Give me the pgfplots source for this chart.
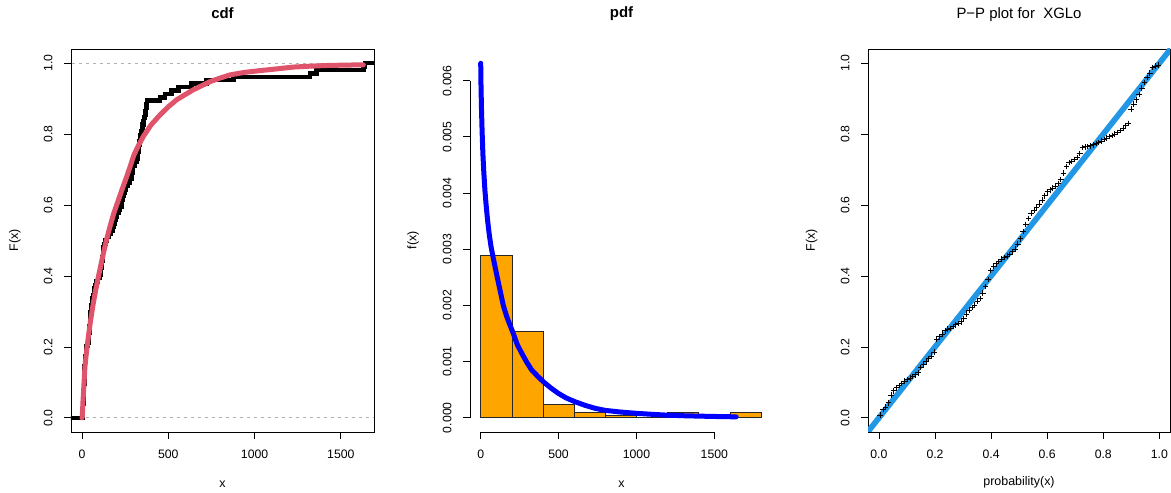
\documentclass[border=0pt]{standalone}
\usepackage{fontspec}
\setmainfont{Liberation Sans}
\usepackage{pgfplots}
\pgfplotsset{compat=1.18}
\definecolor{rred}{HTML}{DF536B}
\definecolor{rblue}{HTML}{2297E6}
\definecolor{rorange}{HTML}{FFA500}
\definecolor{gray70}{HTML}{B3B3B3}

\pgfplotsset{
  rpanel/.style={
    scale only axis, anchor=south west,
    tick align=outside, major tick length=7bp,
    xtick pos=lower, ytick pos=lower,
    tick style={black, line width=0.75bp},
    axis line style={line width=0.75bp},
    tick label style={font=\fontsize{12.3}{14}\selectfont, /pgf/number format/assume math mode=true},
    xticklabel shift=7bp, yticklabel shift=8bp,
    yticklabel style={rotate=90, anchor=south},
    label style={font=\fontsize{12.5}{14}\selectfont},
    title style={at={(0.5,1.064)}, anchor=base, font=\fontsize{15}{17}\selectfont},
    /pgf/number format/1000 sep={},
  },
}

\begin{document}
\begin{tikzpicture}
\useasboundingbox (0,0) rectangle (1171bp,493bp);

% ---- cdf ----
\begin{axis}[rpanel,
  at={(71bp,61bp)}, width=303bp, height=383bp,
  xmin=-63.7, xmax=1692, ymin=-0.04, ymax=1.04,
  xtick={0,500,1000,1500}, ytick={0,0.2,0.4,0.6,0.8,1},
  yticklabel style={/pgf/number format/.cd, fixed, fixed zerofill, precision=1},
  xlabel={x}, ylabel={F(x)},
  xlabel style={at={(axis description cs:0.5,-0.1358)}, anchor=center},
  ylabel style={at={(axis description cs:-0.1848,0.5)}, anchor=center},
  title={\bfseries cdf},
]
\addplot[gray70, line width=0.8bp, dash pattern=on 3.5bp off 3.5bp] coordinates {(-100,0)(1800,0)};
\addplot[gray70, line width=0.8bp, dash pattern=on 3.5bp off 3.5bp] coordinates {(-100,1)(1800,1)};
% empirical cdf (n = 104)
\addplot[const plot, black, line width=4.5bp] coordinates {
(-70,0)(2.5,0.0096)(4.2,0.0192)(4.9,0.0288)(6.1,0.0385)(8.5,0.0481)(9.7,0.0577)(10.7,0.0673)(11.3,0.0769)
(12.0,0.0865)(12.6,0.0962)(13.2,0.1058)(13.6,0.1154)(14.0,0.125)(14.6,0.1346)(15.2,0.1442)(16.8,0.1538)
(18.4,0.1635)(20.3,0.1731)(22.2,0.1827)(24.1,0.1923)(26.6,0.2019)(35.3,0.2115)(37.0,0.2212)(39.1,0.2308)
(41.8,0.2404)(43.3,0.25)(43.9,0.2596)(45.3,0.2692)(46.8,0.2788)(48.0,0.2885)(49.5,0.2981)(51.9,0.3077)
(55.8,0.3173)(59.1,0.3269)(61.4,0.3365)(63.9,0.3462)(68.2,0.3558)(70.9,0.3654)(77.1,0.375)(84.1,0.3846)
(91.9,0.3942)(102.5,0.4038)(107.7,0.4135)(110.8,0.4231)(113.9,0.4327)(116.5,0.4423)(118.7,0.4519)
(120.5,0.4615)(122.2,0.4712)(126.0,0.4808)(130.1,0.4904)(137.2,0.5)(144.8,0.5096)(154.9,0.5192)
(165.9,0.5288)(177.0,0.5385)(186.2,0.5481)(192.0,0.5577)(197.9,0.5673)(203.8,0.5769)(211.0,0.5865)
(219.7,0.5962)(227.7,0.6058)(232.1,0.6154)(235.7,0.625)(239.4,0.6346)(245.2,0.6442)(253.2,0.6538)
(265.8,0.6635)(278.8,0.6731)(286.3,0.6827)(288.4,0.6923)(291.8,0.7019)(295.9,0.7115)(305.2,0.7212)
(318,0.7308)(321,0.7404)(324,0.75)(327,0.7596)(330,0.7692)(333,0.7788)(336,0.7885)(340,0.7981)
(344,0.8077)(348,0.8173)(352,0.8269)(356,0.8365)(360,0.8462)(364,0.8558)(367,0.8654)(370,0.875)
(373,0.8846)(377,0.8942)(452,0.9038)(481,0.9135)(519,0.9231)(558,0.9327)(635,0.9423)(722,0.9519)
(877,0.9615)(1321,0.9712)(1360,0.9808)(1630,0.9904)(1640,1.0)(1750,1.0)};
% fitted cdf
\addplot[rred, line width=5bp, line cap=round] coordinates {
(0,0)(2,0.003)(5,0.04)(8,0.065)(12,0.1)(17,0.144)(27,0.19)(37,0.229)(50,0.275)(62,0.313)(78,0.357)
(95,0.398)(110,0.432)(124,0.464)(142,0.502)(162,0.539)(185,0.578)(211,0.614)(235,0.648)(259,0.68)
(280,0.71)(300,0.74)(325,0.766)(355,0.793)(400,0.826)(452,0.854)(500,0.877)(549,0.897)(600,0.912)
(645,0.925)(700,0.938)(742,0.948)(800,0.958)(858,0.967)(940,0.974)(1031,0.979)(1130,0.984)
(1224,0.989)(1320,0.9915)(1418,0.9935)(1520,0.9945)(1630,0.9955)};
\end{axis}

% ---- pdf ----
\begin{axis}[rpanel,
  at={(470bp,60.7bp)}, width=303bp, height=384bp,
  axis x line*=bottom, axis y line*=left,
  axis line style={draw=none}, clip=false,
  xmin=-68.7, xmax=1876.4, ymin=-0.00026, ymax=0.006577,
  xtick={0,500,1000,1500}, ytick={0,0.001,0.002,0.003,0.004,0.005,0.006},
  scaled y ticks=false,
  yticklabel style={/pgf/number format/.cd, fixed, fixed zerofill, precision=3},
  xlabel={x}, ylabel={f(x)},
  xlabel style={at={(axis description cs:0.5,-0.1346)}, anchor=center},
  ylabel style={at={(axis description cs:-0.188,0.5)}, anchor=center},
  title={\bfseries pdf},
]
\draw[line width=0.75bp] (axis cs:0,-0.00026) -- (axis cs:1500,-0.00026);
\draw[line width=0.75bp] (axis cs:-68.7,0) -- (axis cs:-68.7,0.006);
\addplot[ybar interval, fill=rorange, draw=black!85, line width=0.6bp] coordinates {
(0,0.002885)(200,0.001538)(400,0.00024)(600,0.0000962)(800,0.0000481)(1000,0)
(1200,0.0000962)(1400,0)(1600,0.0000962)(1800,0)};
\addplot[blue, line width=5bp, line cap=round] coordinates {
(0,0.00631)(2,0.0059)(5,0.0055)(9,0.0051)(14,0.0047)(20,0.00437)(27,0.00405)(35,0.00378)(44,0.00352)
(54,0.00328)(66,0.00305)(80,0.00285)(95,0.00265)(110,0.00245)(124,0.00227)(145,0.0020)(167,0.0018)
(188,0.00165)(209,0.0015)(235,0.0013)(263,0.00115)(295,0.00099)(327,0.00085)(365,0.00074)(402,0.00064)
(450,0.00053)(498,0.000434)(550,0.00035)(605,0.000285)(670,0.00022)(734,0.000167)(800,0.00013)
(900,0.0001)(1000,0.000078)(1100,0.00006)(1200,0.000045)(1300,0.000035)(1400,0.000028)
(1500,0.000022)(1640,0.000015)};
\end{axis}

% ---- P-P plot ----
\begin{axis}[rpanel,
  at={(868bp,61bp)}, width=302bp, height=383bp,
  xmin=-0.039, xmax=1.038, ymin=-0.04, ymax=1.04,
  xtick={0,0.2,0.4,0.6,0.8,1}, ytick={0,0.2,0.4,0.6,0.8,1},
  xticklabel style={/pgf/number format/.cd, fixed, fixed zerofill, precision=1},
  yticklabel style={/pgf/number format/.cd, fixed, fixed zerofill, precision=1},
  xlabel={probability(x)}, ylabel={F(x)},
  xlabel style={at={(axis description cs:0.5,-0.130)}, anchor=center},
  ylabel style={at={(axis description cs:-0.1864,0.5)}, anchor=center},
  title={P−P plot for~~XGLo},
]
\addplot[only marks, mark=+, mark size=2.8bp, mark options={line width=0.9bp}, black] coordinates {
(0.0048,0.008)(0.0144,0.024)(0.024,0.030)(0.0337,0.042)(0.0433,0.064)(0.0529,0.076)(0.0625,0.085)
(0.0721,0.091)(0.0817,0.097)(0.0913,0.103)(0.101,0.108)(0.1106,0.112)(0.1202,0.116)(0.1298,0.121)
(0.1394,0.127)(0.149,0.142)(0.1587,0.150)(0.1683,0.158)(0.1779,0.166)(0.1875,0.174)(0.1971,0.185)
(0.2067,0.222)(0.2163,0.229)(0.226,0.236)(0.2356,0.245)(0.2452,0.250)(0.2548,0.252)(0.2644,0.257)
(0.274,0.262)(0.2837,0.266)(0.2933,0.271)(0.3029,0.279)(0.3125,0.292)(0.3221,0.303)(0.3317,0.311)
(0.3413,0.318)(0.351,0.329)(0.3606,0.336)(0.3702,0.352)(0.3798,0.370)(0.3894,0.390)(0.399,0.415)
(0.4087,0.427)(0.4183,0.434)(0.4279,0.441)(0.4375,0.447)(0.4471,0.452)(0.4567,0.456)(0.4663,0.460)
(0.476,0.468)(0.4856,0.476)(0.4952,0.490)(0.5048,0.505)(0.5144,0.525)(0.524,0.545)(0.5337,0.562)
(0.5433,0.576)(0.5529,0.585)(0.5625,0.594)(0.5721,0.603)(0.5817,0.614)(0.5913,0.626)(0.601,0.637)
(0.6106,0.643)(0.6202,0.648)(0.6298,0.653)(0.6394,0.661)(0.649,0.672)(0.6587,0.690)(0.6683,0.709)
(0.6779,0.720)(0.6875,0.723)(0.6971,0.728)(0.7067,0.734)(0.7163,0.745)(0.726,0.762)(0.7356,0.764)
(0.7452,0.765)(0.7548,0.767)(0.7644,0.770)(0.774,0.773)(0.7837,0.776)(0.7933,0.780)(0.8029,0.785)
(0.8125,0.789)(0.8221,0.793)(0.8317,0.796)(0.8413,0.800)(0.851,0.805)(0.8606,0.810)(0.8702,0.816)
(0.8798,0.824)(0.8894,0.830)(0.899,0.870)(0.9087,0.885)(0.9183,0.897)(0.9279,0.912)(0.9375,0.930)
(0.9471,0.945)(0.9567,0.960)(0.9663,0.972)(0.976,0.988)(0.9856,0.992)(0.9952,0.995)};
\addplot[rblue, line width=5.7bp] coordinates {(-0.1,-0.1)(1.1,1.1)};
\end{axis}
\end{tikzpicture}
\end{document}
